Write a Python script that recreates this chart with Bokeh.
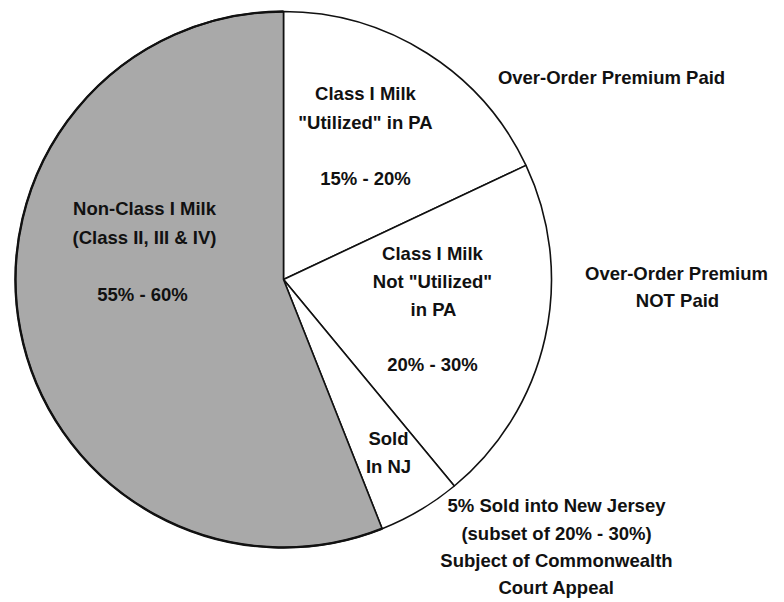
import numpy as np
from bokeh.plotting import figure
from bokeh.models import Range1d, ColumnDataSource
from bokeh.core.properties import value
from bokeh.embed import file_html
from bokeh.resources import INLINE

# ---- data ----
slices = ["Class I Milk Utilized in PA", "Class I Milk Not Utilized in PA", "Sold in NJ", "Non-Class I Milk"]
shares = [18, 21, 5, 56]
slice_colors = ["#ffffff", "#ffffff", "#ffffff", "#a9a9a9"]

inner_labels = ["Non-Class I Milk", "(Class II, III & IV)", "55% - 60%",
                "Class I Milk", "\"Utilized\" in PA", "15% - 20%",
                "Class I Milk", "Not \"Utilized\"", "in PA", "20% - 30%",
                "Sold", "In NJ"]
outer_labels = ["Over-Order Premium Paid",
                "Over-Order Premium", "NOT Paid",
                "5% Sold into New Jersey", "(subset of 20% - 30%)",
                "Subject of Commonwealth", "Court Appeal"]

# ---- layout (picture pixel coordinates) ----
W, H = 784, 602
def fy(y):
    return H - y

cx, cy, r = 283, fy(279), 268

inner_xy = [(144, 208), (144, 237), (142, 294),
            (365, 93), (365, 122), (365, 178),
            (432, 253), (432, 281), (433, 309), (432, 364),
            (388, 438), (388, 466)]
outer_xy = [(611, 77),
            (676, 273), (677, 300),
            (556, 505), (556, 533), (556, 560), (556, 587)]

p = figure(width=W, height=H, output_backend="svg", toolbar_location=None,
           x_range=Range1d(0, W), y_range=Range1d(0, H),
           min_border=0)
p.axis.visible = False
p.grid.visible = False
p.outline_line_color = None
p.background_fill_color = "white"

fr = np.array(shares, dtype=float) / sum(shares)
cum = np.concatenate([[0], np.cumsum(fr)])
start = np.pi / 2 - cum[1:] * 2 * np.pi
end = np.pi / 2 - cum[:-1] * 2 * np.pi

src = ColumnDataSource(dict(start=start, end=end, color=slice_colors, name=slices))
p.wedge(x=cx, y=cy, radius=r, start_angle="start", end_angle="end",
        direction="anticlock", fill_color="color", line_color="#111111",
        line_width=1.6, source=src)
# heavier rim along the grey slice
p.arc(x=cx, y=cy, radius=r, start_angle=start[3], end_angle=end[3],
      direction="anticlock", line_color="#111111", line_width=2.4)

font = value("Liberation Sans")
isrc = ColumnDataSource(dict(x=[a for a, b in inner_xy], y=[fy(b) for a, b in inner_xy], t=inner_labels))
p.text(x="x", y="y", text="t", source=isrc, text_font=font, text_font_size="18.5px",
       text_font_style="bold", text_align="center", text_baseline="middle", text_color="#111111")
osrc = ColumnDataSource(dict(x=[a for a, b in outer_xy], y=[fy(b) for a, b in outer_xy], t=outer_labels))
p.text(x="x", y="y", text="t", source=osrc, text_font=font, text_font_size="18.5px",
       text_font_style="bold", text_align="center", text_baseline="middle", text_color="#111111")

open("out.html", "w").write(file_html(p, INLINE))
